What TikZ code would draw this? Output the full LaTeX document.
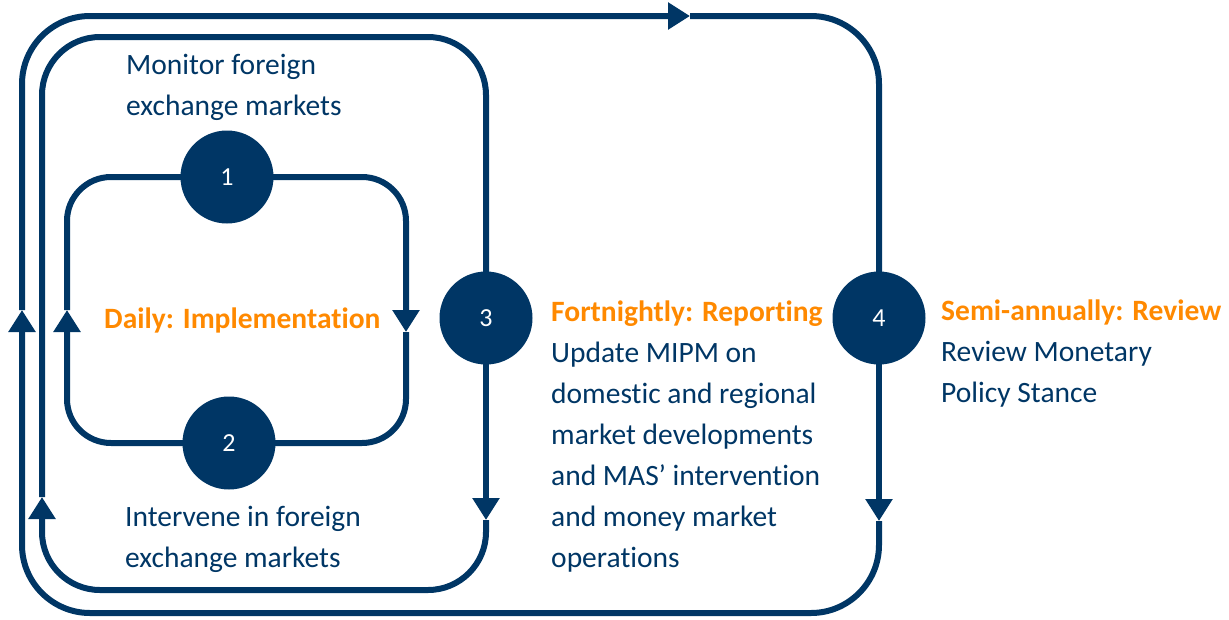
\documentclass[tikz,border=0pt]{standalone}
\usepackage{fontspec}
\setmainfont{Carlito}[Ligatures=NoCommon]
\usetikzlibrary{arrows.meta,backgrounds}
\definecolor{masnavy}{RGB}{0,54,101}
\definecolor{masorange}{RGB}{255,137,0}
\tikzset{
  loopline/.style={draw=masnavy, line width=6pt},
  arrow/.style={-{Triangle[length=22pt,width=26pt]}},
  stage/.style={circle, fill=masnavy, minimum size=93pt, inner sep=0pt,
    text=white, font=\fontsize{26}{30}\selectfont},
  txt/.style={anchor=north west, inner sep=0pt, align=left, text=masnavy,
    font=\fontsize{29.5}{41}\selectfont},
  hdr/.style={text=masorange, font=\fontsize{29.5}{41}\selectfont\bfseries},
}

\begin{document}
\begin{tikzpicture}[x=1pt,y=-1pt]
  \useasboundingbox (0,0) rectangle (1229,619);

  % stages on the loops
  \node[stage] (s1) at (227,177) {1};
  \node[stage] (s2) at (229,443) {2};
  \node[stage] (s3) at (486,318) {3};
  \node[stage] (s4) at (879,318) {4};

  % arrow tips
  \coordinate (d-up) at (67,310);
  \coordinate (d-down) at (406,332);
  \coordinate (f-up) at (42,497);
  \coordinate (f-down) at (486,520);
  \coordinate (s-up) at (22,310);
  \coordinate (s-right) at (690,16);
  \coordinate (s-down) at (879,521);

  \begin{scope}[on background layer]
    % daily loop
    \begin{scope}[rounded corners=44pt]
      \draw[loopline] (d-up) |- (s1.center);
      \draw[loopline, arrow] (s1.center) -| (d-down);
      \draw[loopline] (d-down) |- (s2.center);
      \draw[loopline, arrow] (s2.center) -| (d-up);
    \end{scope}
    % fortnightly loop
    \begin{scope}[rounded corners=58pt]
      \draw[loopline] (f-up) |- (486,37) -- (s3.center);
      \draw[loopline, arrow] (s3.center) -- (f-down);
      \draw[loopline, arrow] (f-down) |- (42,590) -- (f-up);
    \end{scope}
    % semi-annual loop
    \begin{scope}[rounded corners=68pt]
      \draw[loopline, arrow] (s-up) |- (s-right);
      \draw[loopline] (s-right) -| (s4.center);
      \draw[loopline, arrow] (s4.center) -- (s-down);
      \draw[loopline, arrow] (s-down) |- (22,613) -- (s-up);
    \end{scope}
  \end{scope}

  % labels
  \node[txt] (mon) at (126,54) {Monitor foreign\\exchange markets};
  \node[txt] (int) at (125,506) {Intervene in foreign\\exchange markets};
  \node[hdr, anchor=west, inner sep=0pt] (daily) at (104,320) {Daily: Implementation};
  \node[txt] (fort) at (551,301) {\textcolor{masorange}{\bfseries Fortnightly: Reporting}\\
    Update MIPM on\\domestic and regional\\market developments\\
    and MAS’ intervention\\and money market\\operations};
  \node[txt] (semi) at (941,300) {\textcolor{masorange}{\bfseries Semi-annually: Review}\\
    Review Monetary\\Policy Stance};
\end{tikzpicture}
\end{document}
